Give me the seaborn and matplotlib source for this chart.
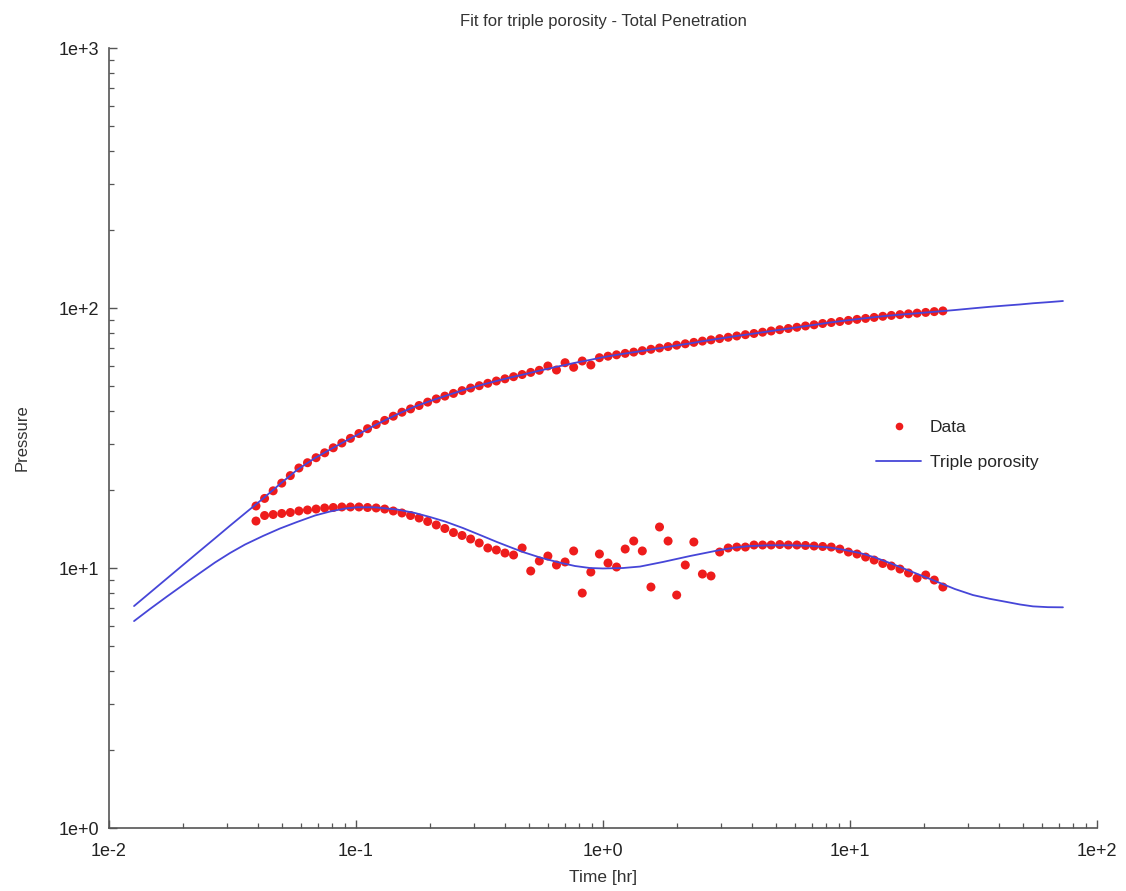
import numpy as np
import pandas as pd
import matplotlib
matplotlib.use("Agg")
import matplotlib.pyplot as plt
import seaborn as sns
from matplotlib.lines import Line2D
from matplotlib.ticker import LogLocator, NullFormatter

# Measured well-test data: elapsed time [hr], pressure change and its derivative
time_hr = [
    0.03937, 0.04265, 0.04620, 0.05005, 0.05422, 0.05874, 0.06363, 0.06894, 0.07468, 0.08091,
    0.08765, 0.09495, 0.1028, 0.1114, 0.1207, 0.1307, 0.1416, 0.1535, 0.1663, 0.1801,
    0.1951, 0.2114, 0.2290, 0.2481, 0.2688, 0.2912, 0.3155, 0.3418, 0.3702, 0.4011,
    0.4345, 0.4707, 0.5099, 0.5524, 0.5984, 0.6483, 0.7023, 0.7608, 0.8243, 0.8930,
    0.9674, 1.048, 1.135, 1.230, 1.332, 1.443, 1.564, 1.694, 1.835, 1.988,
    2.154, 2.333, 2.527, 2.738, 2.967, 3.214, 3.482, 3.772, 4.087, 4.428,
    4.796, 5.196, 5.629, 6.098, 6.606, 7.157, 7.753, 8.400, 9.100, 9.856,
    10.68, 11.57, 12.53, 13.58, 14.71, 15.94, 17.26, 18.70, 20.26, 21.95,
    23.78,
]
pressure = [
    17.32, 18.52, 19.81, 21.21, 22.67, 24.25, 25.41, 26.56, 27.74, 29.00,
    30.26, 31.53, 32.90, 34.34, 35.64, 36.96, 38.36, 39.74, 40.92, 42.17,
    43.46, 44.71, 45.83, 46.94, 48.12, 49.24, 50.26, 51.34, 52.39, 53.42,
    54.43, 55.49, 56.54, 57.60, 59.84, 57.75, 61.61, 59.16, 62.55, 60.38,
    64.40, 65.27, 66.07, 66.91, 67.68, 68.53, 69.39, 70.19, 71.06, 71.95,
    72.85, 73.76, 74.61, 75.41, 76.28, 77.17, 78.06, 78.97, 79.81, 80.73,
    81.59, 82.53, 83.42, 84.31, 85.29, 86.19, 87.19, 87.96, 88.74, 89.61,
    90.42, 91.20, 92.01, 92.92, 93.65, 94.32, 94.99, 95.58, 96.18, 96.87,
    97.46,
]
derivative = [
    15.16, 15.92, 16.06, 16.21, 16.35, 16.57, 16.72, 16.86, 17.02, 17.09,
    17.17, 17.17, 17.17, 17.09, 17.02, 16.86, 16.57, 16.28, 15.92, 15.57,
    15.10, 14.64, 14.19, 13.69, 13.34, 12.93, 12.48, 11.94, 11.73, 11.42,
    11.22, 11.94, 9.74, 10.64, 11.12, 10.27, 10.55, 11.63, 8.01, 9.65,
    11.32, 10.45, 10.09, 11.83, 12.70, 11.63, 8.45, 14.38, 12.70, 7.87,
    10.27, 12.59, 9.48, 9.32, 11.52, 11.94, 12.04, 12.04, 12.26, 12.26,
    12.26, 12.31, 12.26, 12.26, 12.21, 12.15, 12.10, 12.04, 11.83, 11.52,
    11.32, 11.02, 10.73, 10.41, 10.18, 9.91, 9.57, 9.15, 9.40, 8.99,
    8.45,
]

# Triple-porosity model response
model_time = [
    0.01263, 0.01466, 0.01717, 0.01993, 0.02336, 0.02686, 0.03090, 0.03553, 0.04202, 0.04924,
    0.05770, 0.06823, 0.07846, 0.09026, 0.1009, 0.1194, 0.1466, 0.1733, 0.1993, 0.2293,
    0.2711, 0.3177, 0.3723, 0.4202, 0.4744, 0.5557, 0.6514, 0.7700, 0.8858, 1.0,
    1.205, 1.412, 1.749, 2.250, 2.588, 2.977, 3.423, 3.937, 4.744, 5.716,
    6.887, 8.299, 9.546, 10.98, 12.62, 14.52, 18.33, 23.14, 26.62, 31.48,
    36.88, 43.21, 48.80, 55.07, 63.33, 72.83,
]
model_pressure = [
    7.14, 8.04, 9.12, 10.27, 11.65, 13.01, 14.55, 16.23, 18.49, 21.04,
    23.83, 26.49, 28.54, 30.71, 32.47, 35.42, 38.98, 41.80, 43.85, 45.86,
    48.30, 50.43, 52.48, 53.99, 55.44, 57.49, 59.46, 61.55, 63.15, 64.69,
    66.66, 68.16, 70.44, 73.10, 74.80, 76.33, 77.90, 79.36, 81.44, 83.55,
    85.67, 87.96, 89.45, 90.89, 92.26, 93.58, 95.32, 97.12, 98.24, 99.73,
    101.1, 102.3, 103.2, 104.3, 105.3, 106.4,
]
model_derivative = [
    6.25, 6.96, 7.77, 8.60, 9.57, 10.50, 11.42, 12.31, 13.28, 14.19,
    15.03, 15.92, 16.49, 16.94, 17.12, 17.12, 16.79, 16.28, 15.71, 15.10,
    14.25, 13.40, 12.59, 12.04, 11.52, 10.98, 10.55, 10.18, 10.00, 9.96,
    10.00, 10.13, 10.55, 11.12, 11.42, 11.73, 11.99, 12.15, 12.23, 12.23,
    12.17, 11.99, 11.73, 11.42, 10.98, 10.45, 9.57, 8.76, 8.30, 7.87,
    7.61, 7.40, 7.24, 7.12, 7.07, 7.06,
]

x_ticklabels = ["1e-2", "1e-1", "1e+0", "1e+1", "1e+2"]
y_ticklabels = ["1e+0", "1e+1", "1e+2", "1e+3"]

RED = "#ee1c1c"
BLUE = "#4646d8"

sns.set_style("ticks")
plt.rcParams["font.family"] = ["Liberation Sans", "DejaVu Sans"]

points = pd.DataFrame({
    "time": time_hr + time_hr,
    "value": pressure + derivative,
    "curve": ["pressure"] * len(time_hr) + ["derivative"] * len(time_hr),
})
model = pd.DataFrame({
    "time": model_time + model_time,
    "value": model_pressure + model_derivative,
    "curve": ["pressure"] * len(model_time) + ["derivative"] * len(model_time),
})

fig = plt.figure(figsize=(11.26, 8.91), dpi=100)
ax = fig.add_axes([0.0968, 0.0707, 0.8774, 0.8754])

sns.scatterplot(data=points, x="time", y="value", color=RED, s=42,
                edgecolor="none", linewidth=0, ax=ax, zorder=2, legend=False)
for name, grp in model.groupby("curve"):
    sns.lineplot(data=grp, x="time", y="value", sort=False, estimator=None,
                 color=BLUE, linewidth=1.3, ax=ax, zorder=3, legend=False)

ax.set_xscale("log")
ax.set_yscale("log")
ax.set_xlim(1e-2, 1e2)
ax.set_ylim(1e0, 1e3)

ax.set_xticks([1e-2, 1e-1, 1e0, 1e1, 1e2], x_ticklabels)
ax.set_yticks([1e0, 1e1, 1e2, 1e3], y_ticklabels)
ax.xaxis.set_minor_locator(LogLocator(base=10, subs=range(2, 10)))
ax.yaxis.set_minor_locator(LogLocator(base=10, subs=range(2, 10)))
ax.xaxis.set_minor_formatter(NullFormatter())
ax.yaxis.set_minor_formatter(NullFormatter())

for side in ("top", "right"):
    ax.spines[side].set_visible(False)
for side in ("left", "bottom"):
    ax.spines[side].set_color("#555555")
    ax.spines[side].set_linewidth(1.2)

ax.tick_params(which="major", direction="in", length=6, width=1.0,
               color="#555555", labelsize=13, labelcolor="#222222", pad=7)
ax.tick_params(axis="x", which="major", pad=11)
ax.tick_params(which="minor", direction="in", length=3.5, width=0.9,
               color="#555555")

ax.set_xlabel("Time [hr]", fontsize=12.5, color="#333333", labelpad=7)
ax.set_ylabel("Pressure", fontsize=12, color="#333333", labelpad=21)
ax.set_title("Fit for triple porosity - Total Penetration", fontsize=12,
             color="#333333", pad=16)

handles = [
    Line2D([], [], marker="o", color=RED, linestyle="none", markersize=5.5,
           markeredgewidth=0),
    Line2D([], [], color=BLUE, linewidth=1.3),
]
ax.legend(handles, ["Data", "Triple porosity"], loc="upper left",
          bbox_to_anchor=(0.778, 0.529), bbox_transform=fig.transFigure,
          frameon=False, fontsize=12.5, handlelength=2.6, handletextpad=0.5,
          labelspacing=1.18, borderpad=0, borderaxespad=0)

fig.savefig("out.png", dpi=100, facecolor="white")
